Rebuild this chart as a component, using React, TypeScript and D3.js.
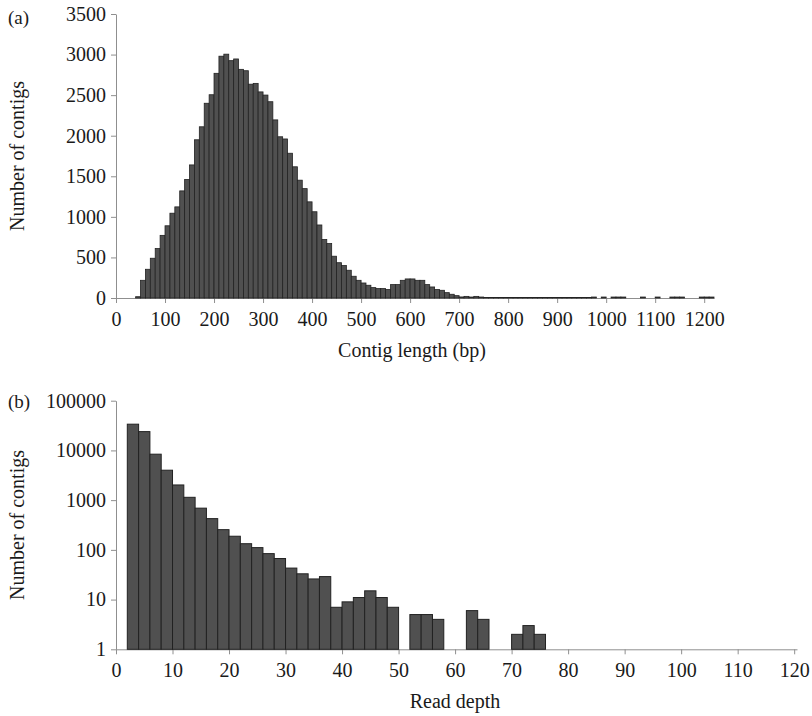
import React, { useEffect, useRef } from "react";
import * as d3 from "d3";

// ---------- Panel (a): contig length histogram (10 bp bins) ----------
const lengthFirstBin = 40;
const lengthBinWidth = 10;
const lengthCounts = [
  16, 218, 354, 490, 609, 772, 890, 1045, 1123, 1320, 1461, 1640, 1950, 2110, 2400, 2505,
  2769, 2980, 3005, 2925, 2946, 2818, 2801, 2635, 2645, 2540, 2501, 2419, 2195, 1987, 1960,
  1784, 1617, 1452, 1348, 1185, 1063, 900, 721, 671, 515, 435, 400, 342, 268, 218, 185, 157,
  128, 116, 116, 104, 165, 165, 218, 235, 235, 218, 218, 165, 136, 104, 95, 66, 46, 29, 13,
  20, 12, 20, 12,
  6, 6, 6, 6, 6, 6, 6, 6, 6, 6, 6, 6, 6, 6, 6, 6, 6, 6, 6, 6, 6, 6,
  12, 0, 12, 0, 12, 12, 12, 0, 0, 0, 12, 0, 0, 12, 0, 0, 12, 12, 12, 0, 0, 0, 12, 12, 12,
];
const lengthTicks = [0, 100, 200, 300, 400, 500, 600, 700, 800, 900, 1000, 1100, 1200];
const countTicks = [0, 500, 1000, 1500, 2000, 2500, 3000, 3500];

// ---------- Panel (b): read depth histogram (bins of 2) ----------
const depthFirstBin = 2;
const depthBinWidth = 2;
const depthCounts = [
  33700, 23900, 8400, 4000, 2020, 1140, 690, 425, 255, 188, 133, 111, 84, 67, 43, 33, 26, 29,
  7, 9, 11, 15, 11, 7, 0, 5, 5, 4, 0, 0, 6, 4, 0, 0, 2, 3, 2,
];
const depthTicks = [0, 10, 20, 30, 40, 50, 60, 70, 80, 90, 100, 110, 120];
const logTicks = [1, 10, 100, 1000, 10000, 100000];

const FONT = "'Liberation Serif', 'Times New Roman', serif";
const AXIS_COLOR = "#8f8f8f";
const BAR_FILL = "#505050";
const BAR_STROKE = "#222222";
const plain = d3.format("d");

function styleAxis(g: any, size: number) {
  g.attr("font-family", FONT);
  g.select(".domain").attr("stroke", AXIS_COLOR).attr("stroke-width", 1);
  g.selectAll(".tick line").attr("stroke", AXIS_COLOR).attr("stroke-width", 1);
  g.selectAll(".tick text")
    .attr("fill", "#1a1a1a")
    .style("font-family", FONT)
    .style("font-size", `${size}px`);
}

export default function App() {
  const ref = useRef<SVGSVGElement>(null);

  useEffect(() => {
    const svg = d3.select(ref.current as SVGSVGElement);
    svg.selectAll("*").remove();

    // ===== Panel (a) =====
    const xA = d3.scaleLinear().domain([0, 1220]).range([116, 714]);
    const yA = d3.scaleLinear().domain([0, 3500]).range([298, 14]);

    const gAy = svg.append("g").attr("transform", `translate(${xA(0)},0)`);
    gAy.call(d3.axisLeft(yA).tickValues(countTicks).tickFormat(plain as any)
      .tickSize(5).tickSizeOuter(0).tickPadding(5));
    styleAxis(gAy, 20);

    const gAx = svg.append("g").attr("transform", `translate(0,${yA(0)})`);
    gAx.call(d3.axisBottom(xA).tickValues(lengthTicks).tickFormat(plain as any)
      .tickSize(5).tickSizeOuter(0).tickPadding(9));
    styleAxis(gAx, 20);

    const lengthData = lengthCounts.map((c, i) => ({
      x0: lengthFirstBin + i * lengthBinWidth,
      c,
    })).filter((d) => d.c > 0);

    svg.append("g")
      .selectAll("rect")
      .data(lengthData)
      .join("rect")
      .attr("x", (d) => xA(d.x0))
      .attr("width", (d) => xA(d.x0 + lengthBinWidth) - xA(d.x0))
      .attr("y", (d) => yA(d.c))
      .attr("height", (d) => yA(0) - yA(d.c))
      .attr("fill", BAR_FILL)
      .attr("stroke", BAR_STROKE)
      .attr("stroke-width", 0.8);

    svg.append("text").attr("x", 8).attr("y", 24).text("(a)")
      .style("font-family", FONT).style("font-size", "19px").attr("fill", "#1a1a1a");
    svg.append("text")
      .attr("transform", `translate(24,${(yA(0) + yA(3500)) / 2}) rotate(-90)`)
      .attr("text-anchor", "middle").text("Number of contigs")
      .style("font-family", FONT).style("font-size", "20px").attr("fill", "#1a1a1a");
    svg.append("text").attr("x", 412).attr("y", 357).attr("text-anchor", "middle")
      .text("Contig length (bp)")
      .style("font-family", FONT).style("font-size", "20px").attr("fill", "#1a1a1a");

    // ===== Panel (b) =====
    const xB = d3.scaleLinear().domain([0, 120.5]).range([116, 797]);
    const yB = d3.scaleLog().domain([1, 100000]).range([649.3, 400.7]);

    const gBy = svg.append("g").attr("transform", `translate(${xB(0)},0)`);
    gBy.call(d3.axisLeft(yB).tickValues(logTicks).tickFormat(plain as any)
      .tickSize(5).tickSizeOuter(0).tickPadding(5));
    styleAxis(gBy, 20);

    const gBx = svg.append("g").attr("transform", `translate(0,${yB(1)})`);
    gBx.call(d3.axisBottom(xB).tickValues(depthTicks).tickFormat(plain as any)
      .tickSize(5).tickSizeOuter(0).tickPadding(9));
    styleAxis(gBx, 20);

    const depthData = depthCounts.map((c, i) => ({
      x0: depthFirstBin + i * depthBinWidth,
      c,
    })).filter((d) => d.c > 0);

    svg.append("g")
      .selectAll("rect")
      .data(depthData)
      .join("rect")
      .attr("x", (d) => xB(d.x0))
      .attr("width", (d) => xB(d.x0 + depthBinWidth) - xB(d.x0))
      .attr("y", (d) => yB(d.c))
      .attr("height", (d) => yB(1) - yB(d.c))
      .attr("fill", BAR_FILL)
      .attr("stroke", BAR_STROKE)
      .attr("stroke-width", 1);

    svg.append("text").attr("x", 8).attr("y", 408).text("(b)")
      .style("font-family", FONT).style("font-size", "19px").attr("fill", "#1a1a1a");
    svg.append("text")
      .attr("transform", `translate(24,${(yB(1) + yB(100000)) / 2}) rotate(-90)`)
      .attr("text-anchor", "middle").text("Number of contigs")
      .style("font-family", FONT).style("font-size", "20px").attr("fill", "#1a1a1a");
    svg.append("text").attr("x", 455).attr("y", 708).attr("text-anchor", "middle")
      .text("Read depth")
      .style("font-family", FONT).style("font-size", "20px").attr("fill", "#1a1a1a");
  }, []);

  return (
    <svg
      ref={ref}
      width={812}
      height={716}
      style={{ position: "absolute", left: 0, top: 0, background: "#ffffff" }}
    />
  );
}
